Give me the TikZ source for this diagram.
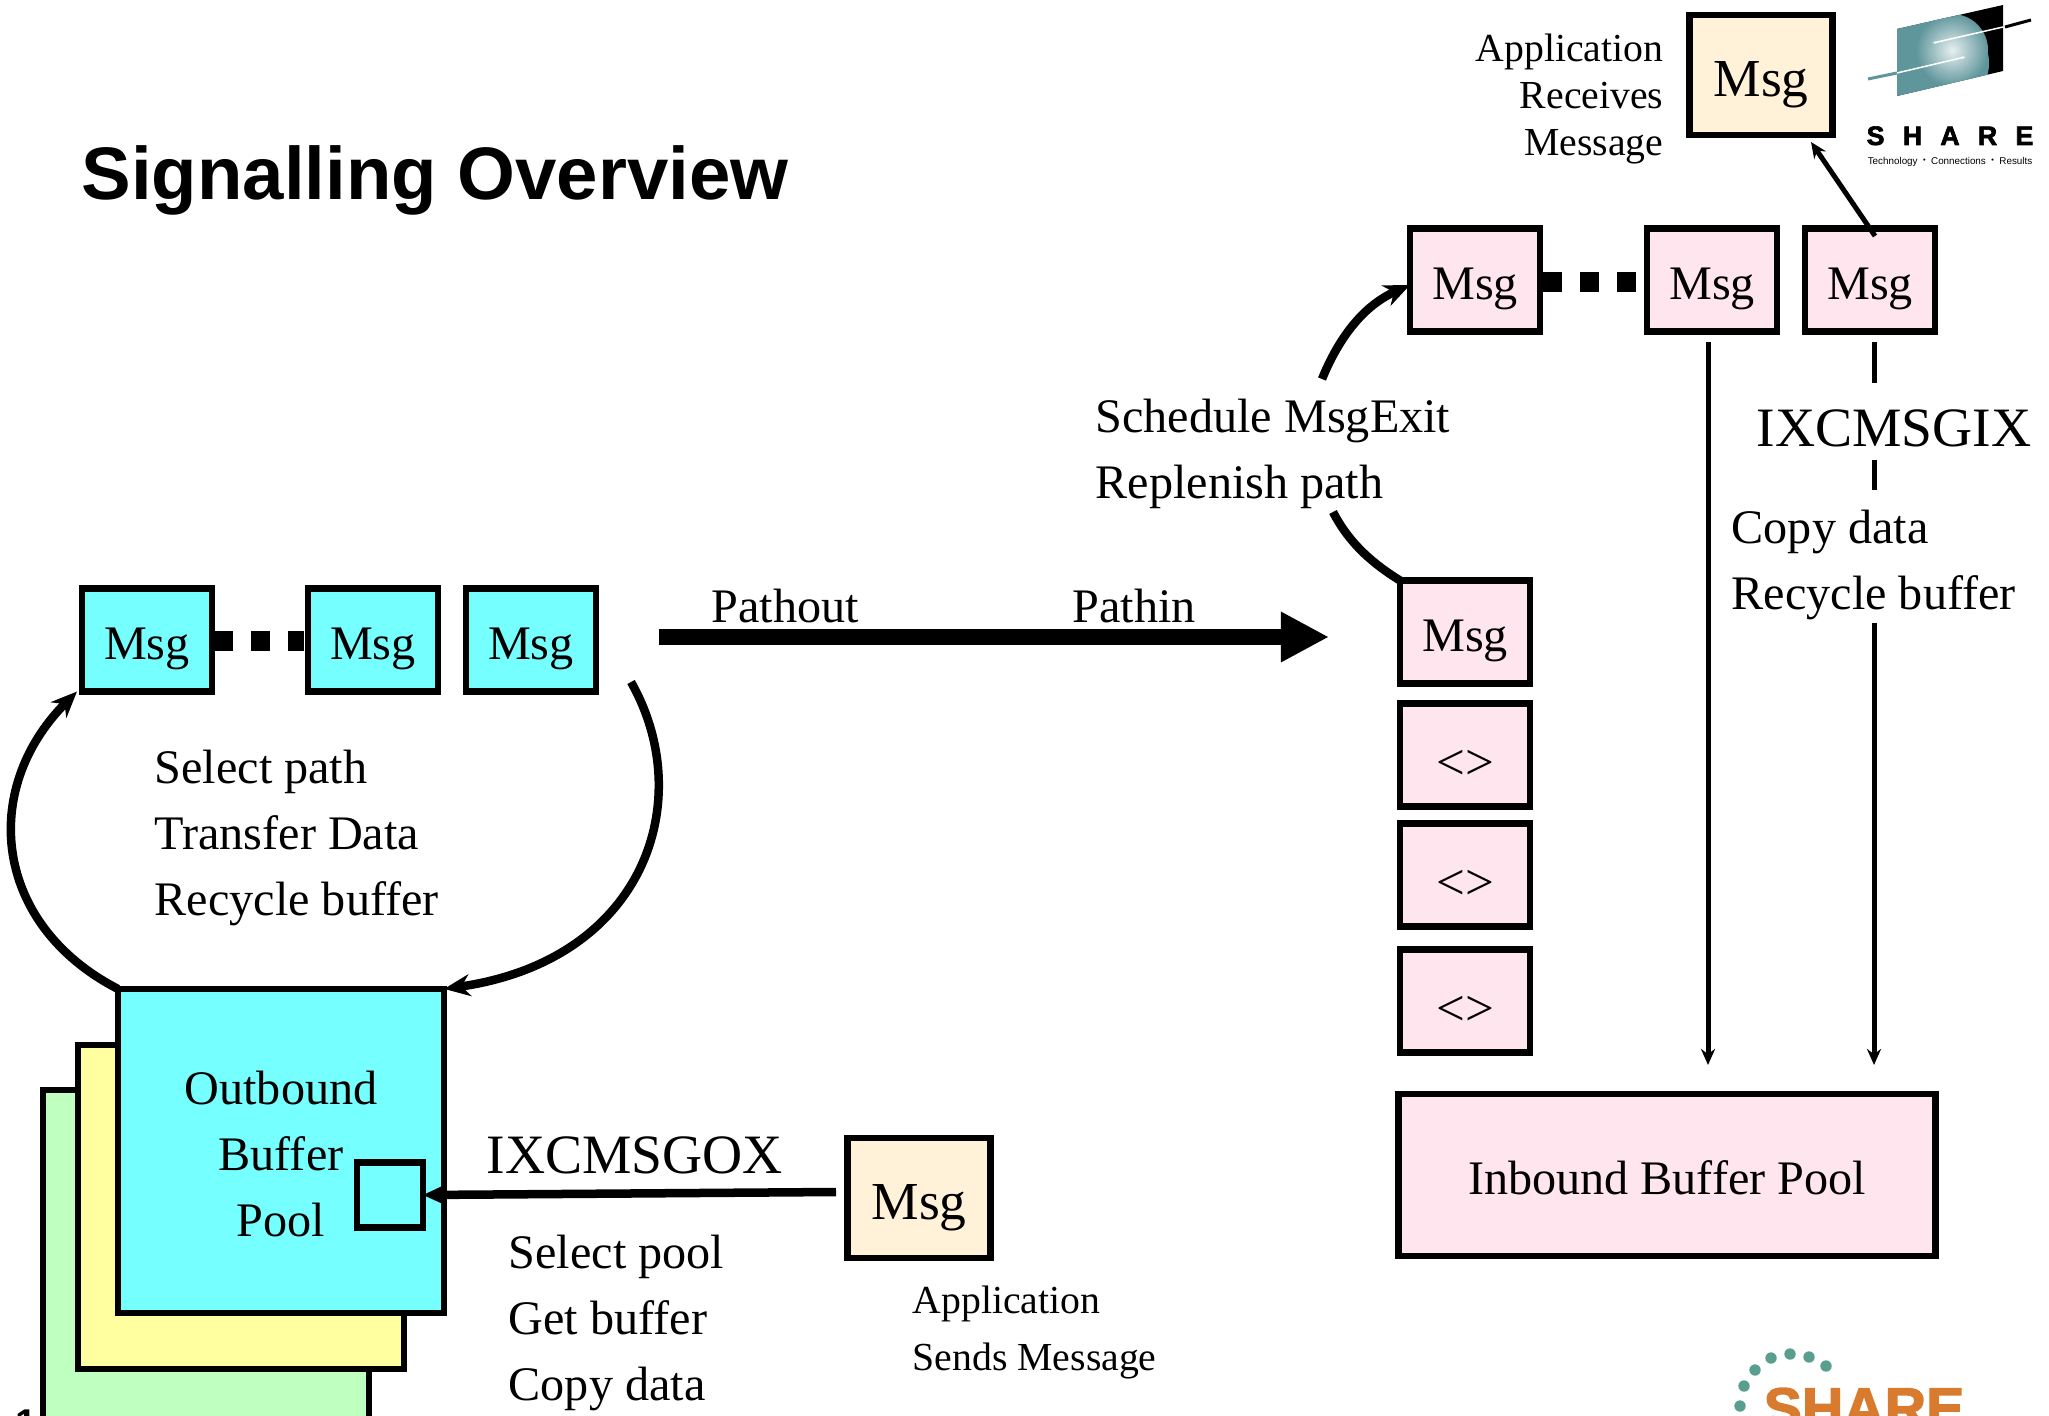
\documentclass[tikz,border=0pt]{standalone}
\usepackage{fontspec}
\setmainfont{Liberation Serif}
\newfontfamily\logofont{Liberation Sans}
\newfontfamily\logoheavy[UprightFont=* Bold, FakeBold=2.4]{Liberation Sans}
\usetikzlibrary{arrows.meta}
\definecolor{msgcyan}{HTML}{75FFFF}
\definecolor{msgpink}{HTML}{FFE6EE}
\definecolor{msgcream}{HTML}{FFF2D8}
\definecolor{poolyellow}{HTML}{FFFF9F}
\definecolor{poolgreen}{HTML}{BFFFBF}
\definecolor{logoteal}{HTML}{5F969C}
\definecolor{logodot}{HTML}{5A9E8F}
\definecolor{logoorange}{HTML}{D87B2F}
\newcommand{\txtfont}{\fontsize{13.7}{18.8}\selectfont}
\begin{document}
\begin{tikzpicture}[x=0.01cm, y=-0.01cm, font=\txtfont,
    boxline/.style={draw, line width=0.065cm, outer sep=0pt, inner sep=0pt},
    msgbox/.style={boxline, minimum width=1.30cm, minimum height=1.03cm, text height=14pt, text depth=3pt},
    bigmsg/.style={boxline, minimum width=1.43cm, minimum height=1.2cm, fill=msgcream, font=\fontsize{15.2}{18}\selectfont, text height=15.5pt, text depth=3.5pt},
    slot/.style={msgbox, fill=msgpink, font=\fontsize{14.5}{18}\selectfont, text height=14.7pt, text depth=1pt},
    pool/.style={boxline, minimum width=3.26cm, minimum height=3.24cm},
    lbl/.style={anchor=north west, align=left, inner sep=0pt},
    biglbl/.style={anchor=base west, inner sep=0pt, font=\fontsize{15.8}{18}\selectfont},
    dots/.style={line width=0.19cm, dash pattern=on 0.19cm off 0.18cm},
    flow/.style={line width=0.085cm, -{Stealth[length=0.26cm, width=0.22cm]}},
    thinflow/.style={line width=0.05cm, -{Stealth[length=0.16cm, width=0.14cm]}}]
    \clip (0, 0) rectangle (2049, 1416);

    \node[anchor=base west, inner sep=0pt, font=\logofont\bfseries\fontsize{21.15}{24}\selectfont] (title) at (81, 200) {Signalling Overview};
    \node[anchor=base west, inner sep=0pt, font=\logofont\bfseries\fontsize{11}{12}\selectfont] (pageno) at (15, 1436) {14};

    % outbound side
    \node[pool, fill=poolgreen, minimum height=3.4cm] (pool3) at (206, 1260) {};
    \node[pool, fill=poolyellow] (pool2) at (241, 1207) {};
    \node[pool, fill=msgcyan] (pool1) at (281, 1151) {};
    \node[align=center, inner sep=0pt] (pool1text) at (281, 1154) {Outbound\\Buffer\\Pool};
    \node[boxline, minimum width=0.66cm, minimum height=0.65cm] (slotout) at (390, 1195) {};

    \draw[dots] (214, 641) -- (304, 641);
    \node[msgbox, fill=msgcyan] (out1) at (147, 640) {Msg};
    \node[msgbox, fill=msgcyan] (out2) at (373, 640) {Msg};
    \node[msgbox, fill=msgcyan] (out3) at (531, 640) {Msg};

    \node[lbl] (outtext) at (154, 749) {Select path\\Transfer Data\\Recycle buffer};
    \coordinate (outstart) at (631, 682);
    \draw[flow] (pool1.north west) .. controls (-6, 925) and (-21, 790) .. ([xshift=-0.05cm]out1.south west);
    \draw[flow] (outstart) .. controls (698, 800) and (645, 960) .. (pool1.north east);

    \node[bigmsg] (appout) at (919, 1198) {Msg};
    \coordinate (appfoot) at (836, 1192);
    \draw[line width=0.085cm, -{Stealth[length=0.22cm, width=0.2cm]}] (appfoot) -- (slotout.east);
    \node[biglbl] (gox) at (486, 1173) {IXCMSGOX};
    \node[lbl] (goxtext) at (508, 1234) {Select pool\\Get buffer\\Copy data};
    \node[lbl, font=\fontsize{11.3}{16.4}\selectfont] (sendtext) at (912, 1285) {Application\\Sends Message};

    % link between the systems
    \coordinate (linkstart) at (659, 637);
    \coordinate (linkend) at (1329, 637);
    \draw[line width=0.16cm, -{Triangle[length=0.48cm, width=0.47cm]}] (linkstart) -- (linkend);
    \node[anchor=base west, inner sep=0pt] (pathout) at (711, 623) {Pathout};
    \node[anchor=base west, inner sep=0pt] (pathin) at (1072, 623) {Pathin};

    % inbound side
    \node[msgbox, fill=msgpink] (slot1) at (1465, 632) {Msg};
    \node[slot] (slot2) at (1465, 755) {<>};
    \node[slot] (slot3) at (1465, 875) {<>};
    \node[slot] (slot4) at (1465, 1001) {<>};
    \node[boxline, fill=msgpink, minimum width=5.37cm, minimum height=1.62cm, text height=13pt, text depth=2pt] (inpool) at (1667, 1175) {Inbound Buffer Pool};

    \draw[dots] (1543, 282) -- (1644, 282);
    \node[msgbox, fill=msgpink] (in1) at (1475, 280) {Msg};
    \node[msgbox, fill=msgpink] (in2) at (1712, 280) {Msg};
    \node[msgbox, fill=msgpink] (in3) at (1870, 280) {Msg};

    \node[lbl] (schedtext) at (1095, 398) {Schedule MsgExit\\Replenish path};
    \coordinate (schedstart) at (1322, 379);
    \coordinate (replstart) at (1333, 512);
    \draw[flow] (schedstart) .. controls (1340, 335) and (1365, 305) .. (in1.west |- 0, 285);
    \draw[line width=0.085cm] (replstart) .. controls (1350, 545) and (1375, 565) .. (slot1.north west);

    \node[biglbl] (gix) at (1756, 447) {IXCMSGIX};
    \node[lbl] (gixtext) at (1731, 509) {Copy data\\Recycle buffer};
    \coordinate (in2foot) at (1708, 342);
    \coordinate (in3foot) at (1874, 342);
    \coordinate (gixtop) at (1874, 383);
    \coordinate (gixlow) at (1874, 460);
    \coordinate (texttop) at (1874, 490);
    \coordinate (textlow) at (1874, 623);
    \draw[thinflow] (in2foot) -- (in2foot |- 0, 1065);
    \draw[line width=0.05cm] (in3foot) -- (gixtop);
    \draw[line width=0.05cm] (gixlow) -- (texttop);
    \draw[thinflow] (textlow) -- (in3foot |- 0, 1065);

    \node[bigmsg] (appin) at (1761, 75) {Msg};
    \coordinate (in3top) at (1875, 236);
    \draw[thinflow] (in3top) -- (1811, 142);
    \node[lbl, anchor=north east, align=right, font=\fontsize{11.3}{13.4}\selectfont] (recvtext) at (1664, 33) {Application\\Receives\\Message};

    % logo, top right
    \begin{scope}
        \clip (1897, 29) -- (2003, 5) -- (2003, 71) -- (1897, 96) -- cycle;
        \fill[black] (1890, 0) rectangle (2010, 100);
        \fill[logoteal] (1890, 0) rectangle (1943, 100);
        \fill[logoteal] (1943, 63) circle (46);
        \shade[inner color=white!85!logoteal, outer color=logoteal] (1952, 50) circle (36);
    \end{scope}
    \draw[white, line width=0.015cm, -{Stealth[length=0.03cm, width=0.03cm]}] (2003, 27) -- (1933, 43);
    \draw[black, line width=0.03cm] (2005, 27) -- (2031, 20);
    \draw[logoteal, line width=0.03cm] (1868, 79) -- (1897, 73);
    \draw[white, line width=0.015cm, -{Stealth[length=0.03cm, width=0.03cm]}] (1897, 73) -- (1965, 57);
    \node[anchor=base, inner sep=0pt, font=\logoheavy\fontsize{7.6}{9}\selectfont] (sharemark) at (1950, 145) {S\hspace{5.2pt}H\hspace{5.2pt}A\hspace{5.2pt}R\hspace{5.2pt}E};
    \node[anchor=base, inner sep=0pt, font=\logofont\fontsize{2.8}{4}\selectfont] (sharetag) at (1950, 165) {Technology $\cdot$ Connections $\cdot$ Results};

    % logo, bottom right
    \foreach \dx/\dy in {1740/1406, 1744/1386, 1755/1370, 1771/1358, 1790/1354, 1809/1357, 1826/1366} {
        \fill[logodot] (\dx, \dy) circle (5.7);
    }
    \node[anchor=base west, inner sep=0pt, text=logoorange, font=\logoheavy\fontsize{16.3}{18}\selectfont] (sharelow) at (1763, 1428) {SHARE};
\end{tikzpicture}
\end{document}
